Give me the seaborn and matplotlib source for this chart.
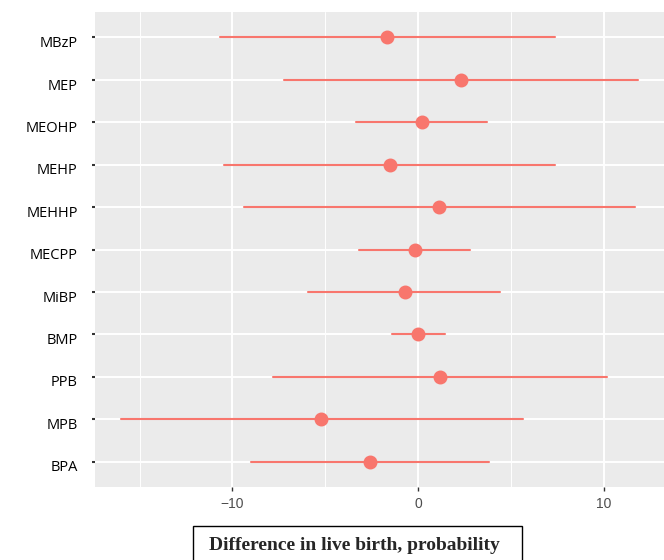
import matplotlib
matplotlib.use("Agg")
import matplotlib.pyplot as plt
import matplotlib.patches as mpatches
import matplotlib.transforms as mtransforms
from matplotlib.ticker import MultipleLocator
import numpy as np
import pandas as pd
import seaborn as sns

# ---- data ----
exposures = ["MBzP", "MEP", "MEOHP", "MEHP", "MEHHP", "MECPP",
             "MiBP", "BMP", "PPB", "MPB", "BPA"]
estimate = [-1.65, 2.32, 0.22, -1.53, 1.13, -0.18, -0.72, 0.02, 1.17, -5.23, -2.59]
lower = [-10.67, -7.20, -3.32, -10.46, -9.40, -3.20, -5.91, -1.40, -7.83, -16.03, -9.02]
upper = [7.40, 11.86, 3.74, 7.40, 11.72, 2.80, 4.44, 1.47, 10.17, 5.66, 3.84]
x_ticks = [-10, 0, 10]
x_label = "Difference in live birth, probability"

# long table: lower / estimate / upper per exposure; the median gives the
# estimate and the 100% percentile interval gives the CI range
rows = []
for name, lo, est, hi in zip(exposures, lower, estimate, upper):
    for v in (lo, est, hi):
        rows.append({"exposure": name, "value": v})
df = pd.DataFrame(rows)

sns.set_theme(style="darkgrid")
plt.rcParams["font.family"] = ["DejaVu Sans"]

W, H = 664, 560
fig = plt.figure(figsize=(W / 100, H / 100), dpi=100)
ax = fig.add_axes([95 / W, 1 - 487 / H, 1 - 95 / W, (487 - 12) / H])
ax.set_facecolor("#EBEBEB")

red = "#F8766D"
sns.pointplot(data=df, x="value", y="exposure", order=exposures,
              estimator="median", errorbar=("pi", 100),
              color=red, linestyle="none", markersize=8.0,
              err_kws={"linewidth": 1.5}, ax=ax, orient="h")

n = len(exposures)
ax.set_ylim(n - 1 + 0.6, -0.6)
ax.set_xlim(-17.41, 13.26)

ax.xaxis.set_minor_locator(MultipleLocator(5))
ax.set_xticks(x_ticks)
ax.set_xticklabels([f"{t}".replace("-", "\u2212") for t in x_ticks])

ax.grid(False)
ax.grid(True, which="major", axis="both", color="white", linewidth=1.4)
ax.grid(True, which="minor", axis="x", color="white", linewidth=0.7)
ax.set_axisbelow(True)
for s in ax.spines.values():
    s.set_visible(False)

ax.tick_params(axis="x", which="major", bottom=True, length=3, width=1,
               color="#333333", labelsize=10, labelcolor="#4D4D4D", pad=4)
ax.tick_params(axis="x", which="minor", bottom=False, length=0)
ax.tick_params(axis="y", left=True, length=2.5, width=1.5, color="#333333",
               labelsize=10.5, labelcolor="black", pad=10)
for lab in ax.get_xticklabels():
    lab.set_family(["Liberation Sans", "DejaVu Sans"])
shift = mtransforms.ScaledTranslation(0, -3 / 72, fig.dpi_scale_trans)
for lab in ax.get_yticklabels():
    lab.set_family(["Open Sans", "DejaVu Sans"])
    lab.set_transform(lab.get_transform() + shift)

ax.set_xlabel("")
ax.set_ylabel("")

# boxed x-axis title
rect = mpatches.Rectangle((193 / W, -0.02), (522 - 193) / W, 0.02 + (1 - 526 / H),
                          transform=fig.transFigure, fill=False,
                          edgecolor="black", linewidth=1.0, clip_on=False)
fig.patches.append(rect)
fig.text(354 / W, 1 - 545 / H, x_label, ha="center", va="center",
         fontsize=14, fontweight="bold",
         family=["Liberation Serif", "DejaVu Serif"])

fig.savefig("out.png", dpi=100)
